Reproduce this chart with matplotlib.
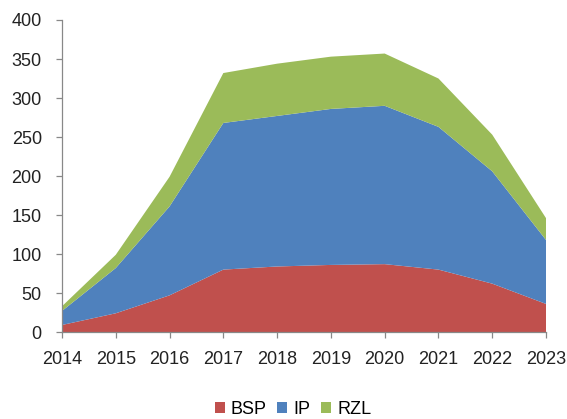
import matplotlib as mpl
import matplotlib.pyplot as plt
from matplotlib.patches import Patch

mpl.rcParams['font.family'] = 'Liberation Sans'

years = [2014, 2015, 2016, 2017, 2018, 2019, 2020, 2021, 2022, 2023]
bsp = [9, 24, 47, 80, 84, 86, 87, 80, 62, 36]
ip = [18, 58, 114, 188, 193, 200, 203, 183, 144, 82]
rzl = [6, 17, 38, 64, 67, 67, 67, 62, 47, 28]

labels = ['BSP', 'IP', 'RZL']
colors = ['#C0504D', '#4F81BD', '#9BBB59']

fig = plt.figure(figsize=(5.67, 4.19), dpi=100, facecolor='white')
ax = fig.add_axes([62/567, 1 - 332/419, (546 - 62)/567, (332 - 20)/419])

ax.stackplot(years, bsp, ip, rzl, colors=colors, labels=labels, linewidth=0)

ax.set_xlim(2014, 2023)
ax.set_ylim(0, 400)
ax.set_xticks(years)
ax.set_yticks(range(0, 401, 50))

for s in ['top', 'right']:
    ax.spines[s].set_visible(False)
for s in ['left', 'bottom']:
    ax.spines[s].set_color('#888888')
    ax.spines[s].set_linewidth(0.9)

ax.tick_params(axis='both', colors='#888888', labelcolor='#222222',
               labelsize=13, length=4.5, width=0.9, direction='out')
ax.tick_params(axis='x', pad=9)
ax.tick_params(axis='y', pad=10)

handles = [Patch(facecolor=c, label=l) for c, l in zip(colors, labels)]
fig.legend(handles=handles, loc='center', bbox_to_anchor=(293/567, 1 - 409/419),
           ncol=3, frameon=False, fontsize=13, handlelength=0.55,
           handleheight=0.55, handletextpad=0.33, columnspacing=0.6,
           borderpad=0, borderaxespad=0)

plt.savefig('out.png', dpi=100, facecolor='white')
